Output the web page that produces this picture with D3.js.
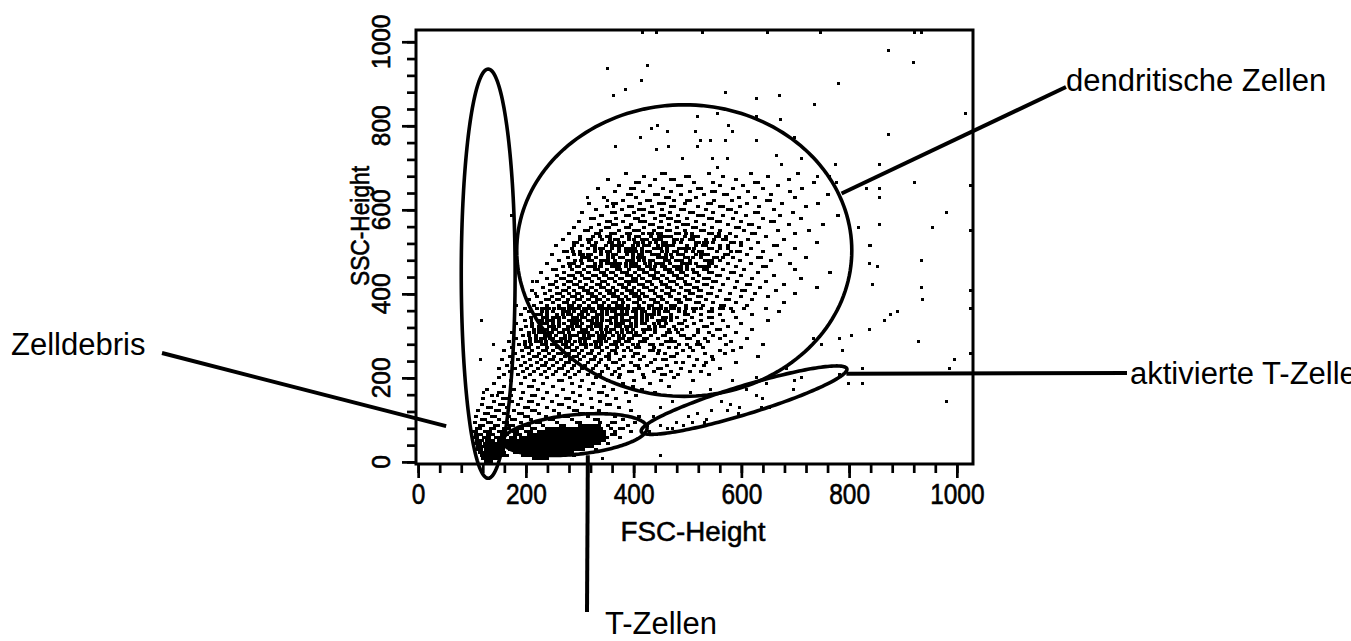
<!DOCTYPE html>
<html>
<head>
<meta charset="utf-8">
<script src="https://cdn.jsdelivr.net/npm/d3@7"></script>
<style>
  body { margin: 0; background: #fff; }
  svg { display: block; }
</style>
</head>
<body>
<script>

// ---------- data (channel units, 0..1023) ----------

const xTickLabels = [0, 200, 400, 600, 800, 1000];
const yTickLabels = [0, 200, 400, 600, 800, 1000];
const xTitle = "FSC-Height";
const yTitle = "SSC-Height";

// gates: centre, half axes, tilt (deg), all in channel units
const gateNames   = ["Zelldebris", "T-Zellen", "aktivierte T-Zellen", "dendritische Zellen"];
const gateCenters = [[130, 448], [291, 65], [605, 147], [494, 503]];
const gateRadii   = [[50, 487], [135, 47], [205, 33], [311, 347]];
const gateTilts   = [0, 7.5, 21.6, 0];
// point on each gate where the label line starts
const gateAnchors = [[52, 85], [315, 16], [795, 210], [786, 639]];

// dendritic cloud, one row per SSC channel: [ssc, fscFrom, fscTo, fscFrom, fscTo, ...]
const dendriticRows = [
  [686, 385,385, 452,457, 540,540, 618,618, 705,705],
  [679, 420,420, 498,503, 566,566, 650,650],
  [672, 352,352, 440,440, 470,475, 590,590, 689,689],
  [665, 405,410, 512,512, 548,548, 625,630, 735,735],
  [658, 372,372, 430,430, 482,487, 560,560, 603,603, 668,668],
  [651, 333,333, 395,400, 455,455, 520,525, 585,585, 640,640, 712,712],
  [644, 365,365, 418,418, 470,470, 505,505, 545,550, 612,612, 690,690],
  [637, 390,395, 440,445, 488,488, 530,530, 568,573, 655,655, 760,760],
  [630, 345,345, 405,405, 460,465, 515,515, 595,595, 625,625, 700,700],
  [623, 380,380, 425,430, 475,475, 500,505, 550,550, 582,582, 648,653],
  [616, 318,318, 362,367, 412,412, 448,458, 495,495, 538,543, 610,610, 675,675, 742,742],
  [609, 350,350, 392,397, 435,435, 470,475, 520,520, 560,565, 598,598, 632,632, 720,720],
  [602, 330,330, 378,378, 410,420, 452,452, 488,493, 535,535, 575,580, 660,660],
  [595, 305,305, 360,365, 400,400, 430,435, 468,468, 505,510, 548,548, 590,590, 625,630, 695,695],
  [588, 342,342, 385,390, 418,418, 450,455, 482,482, 520,530, 565,565, 608,608, 672,672, 780,780],
  [581, 320,325, 368,368, 402,407, 440,440, 463,468, 500,500, 540,545, 585,585, 640,640, 710,710],
  [574, 298,298, 350,355, 380,380, 412,422, 450,450, 478,483, 515,515, 555,560, 600,600, 655,660],
  [567, 335,335, 362,367, 395,395, 430,435, 465,465, 492,502, 530,530, 575,575, 615,620, 688,688, 752,752],
  [560, 290,290, 320,320, 348,353, 385,390, 420,420, 448,453, 480,480, 510,515, 545,545, 590,595, 632,632],
  [553, 310,315, 340,340, 372,372, 400,410, 438,438, 462,467, 495,495, 525,530, 560,560, 605,605, 668,668, 725,725],
  [546, 280,280, 330,335, 358,358, 388,393, 418,418, 445,450, 478,483, 508,508, 540,545, 578,578, 620,625, 700,700],
  [539, 300,300, 325,325, 350,355, 378,378, 405,410, 432,432, 460,470, 495,495, 520,520, 552,557, 590,590, 645,645],
  [532, 268,268, 315,320, 342,342, 365,370, 392,392, 415,425, 450,450, 475,480, 505,510, 535,535, 565,570, 612,612, 680,680],
  [525, 290,295, 330,330, 355,360, 383,383, 402,407, 430,430, 455,460, 488,488, 515,520, 548,548, 580,585, 630,630, 740,740],
  [518, 255,255, 305,305, 322,327, 348,348, 372,377, 398,398, 420,430, 445,445, 468,473, 500,500, 528,533, 560,560, 600,600, 660,665],
  [511, 285,285, 315,315, 338,343, 360,360, 385,395, 415,415, 438,443, 462,462, 485,490, 512,512, 540,545, 575,575, 618,618, 700,700],
  [504, 270,275, 300,300, 328,328, 350,355, 372,372, 398,403, 425,430, 452,452, 475,480, 498,498, 522,527, 555,555, 592,597, 640,640],
  [497, 248,248, 290,290, 315,320, 340,340, 362,367, 388,388, 410,415, 435,440, 460,460, 482,492, 515,515, 538,538, 570,575, 610,610, 672,672],
  [490, 278,278, 305,310, 330,330, 352,352, 375,380, 398,398, 420,420, 445,455, 472,472, 495,500, 525,525, 550,555, 585,585, 630,635, 720,720],
  [483, 262,262, 292,292, 318,323, 340,345, 365,365, 388,393, 410,410, 430,435, 458,458, 478,483, 505,505, 532,537, 560,560, 598,598, 655,655],
  [476, 240,240, 280,285, 305,305, 328,328, 350,355, 375,375, 395,405, 422,422, 442,447, 468,468, 490,495, 515,515, 540,545, 575,575, 618,618, 690,690],
  [469, 268,268, 295,295, 315,320, 338,338, 360,365, 385,385, 405,410, 430,430, 452,457, 475,480, 500,500, 522,527, 552,552, 590,590, 640,645],
  [462, 250,255, 285,285, 308,308, 328,333, 350,350, 370,375, 392,392, 412,417, 438,438, 458,468, 488,488, 510,510, 530,535, 565,565, 605,605, 700,700],
  [455, 228,228, 270,270, 295,300, 318,318, 340,345, 362,362, 382,387, 402,402, 420,425, 445,445, 465,470, 492,492, 512,517, 545,545, 580,585, 630,630, 765,765],
  [448, 258,258, 282,287, 305,305, 325,330, 348,348, 368,368, 390,395, 410,410, 432,437, 455,455, 475,480, 500,500, 522,522, 555,560, 600,600, 660,660],
  [441, 240,240, 265,270, 292,292, 312,317, 335,335, 355,360, 378,378, 398,403, 418,418, 440,445, 462,462, 485,490, 510,510, 535,540, 575,575, 620,620, 710,710],
  [434, 220,220, 255,255, 278,283, 300,300, 322,322, 342,347, 365,365, 385,390, 405,405, 425,430, 450,450, 470,475, 495,495, 520,520, 548,553, 592,592, 645,645],
  [427, 245,250, 270,270, 290,295, 312,312, 332,337, 352,352, 372,377, 392,392, 412,417, 435,435, 455,460, 480,480, 505,505, 530,535, 565,565, 610,615, 680,680],
  [420, 232,232, 258,258, 280,280, 300,305, 322,322, 340,345, 362,362, 380,385, 400,400, 420,425, 442,442, 462,467, 488,488, 512,517, 545,545, 588,588, 635,635, 740,740],
  [413, 212,212, 245,245, 268,273, 290,290, 310,315, 330,330, 350,355, 370,370, 392,397, 410,410, 430,435, 452,452, 475,475, 498,503, 525,525, 560,560, 602,607, 665,665],
  [406, 235,235, 258,263, 280,280, 298,298, 318,323, 338,338, 358,363, 378,378, 398,403, 418,418, 440,440, 460,465, 485,485, 510,510, 538,543, 578,578, 625,625, 700,700],
  [399, 220,220, 248,248, 268,268, 285,290, 305,305, 325,330, 345,345, 365,370, 385,385, 405,410, 425,425, 445,450, 470,470, 495,495, 520,525, 555,555, 600,600, 650,650],
  [392, 205,205, 238,243, 258,258, 278,278, 295,300, 315,315, 332,337, 352,352, 372,377, 392,392, 412,412, 432,437, 455,455, 478,483, 505,505, 535,535, 572,577, 620,620],
  [385, 228,228, 250,250, 270,275, 290,290, 308,308, 325,330, 345,345, 362,367, 380,380, 400,405, 420,420, 440,445, 462,462, 488,488, 515,520, 548,548, 590,590, 680,680],
  [378, 215,215, 240,240, 262,262, 280,285, 300,300, 318,318, 335,340, 355,355, 372,377, 390,390, 410,410, 428,433, 450,450, 472,477, 498,498, 528,528, 562,567, 610,610],
  [371, 198,198, 230,235, 252,252, 270,270, 288,293, 308,308, 325,325, 342,347, 362,362, 380,385, 400,400, 418,418, 438,443, 460,460, 485,485, 510,515, 545,545, 580,580, 645,645],
  [364, 220,220, 242,242, 262,267, 280,280, 298,298, 315,320, 335,335, 352,352, 370,375, 390,390, 408,413, 428,428, 450,450, 470,475, 498,498, 525,525, 560,565, 605,605],
  [357, 205,205, 230,230, 250,250, 268,273, 290,290, 305,305, 322,327, 342,342, 360,365, 378,378, 398,398, 415,420, 438,438, 458,463, 485,485, 512,512, 540,545, 585,585, 670,670],
  [350, 190,190, 218,223, 240,240, 258,258, 278,283, 298,298, 315,315, 332,337, 350,350, 368,373, 388,388, 405,405, 425,430, 448,448, 470,470, 495,500, 525,525, 560,560, 620,620],
  [343, 210,210, 232,232, 250,255, 270,270, 288,288, 305,310, 325,325, 342,342, 358,363, 378,378, 395,400, 415,415, 435,435, 455,460, 480,480, 508,508, 540,545, 590,590],
  [336, 198,198, 222,222, 240,245, 262,262, 280,280, 295,300, 315,315, 332,332, 350,355, 368,368, 385,390, 405,405, 425,425, 445,450, 470,470, 495,495, 525,525, 565,565, 650,650],
  [329, 182,182, 212,212, 230,235, 250,250, 270,270, 285,290, 305,305, 322,327, 340,340, 358,358, 375,380, 395,395, 415,420, 438,438, 460,460, 485,490, 512,512, 545,545, 600,600],
  [322, 200,200, 225,225, 242,247, 262,262, 278,278, 295,300, 315,315, 330,335, 350,350, 368,368, 385,390, 405,405, 428,428, 450,455, 475,475, 500,500, 530,535, 575,575],
  [315, 190,190, 215,215, 232,232, 250,255, 270,270, 288,288, 305,310, 322,322, 340,340, 358,363, 378,378, 398,398, 418,423, 440,440, 465,465, 490,490, 520,520, 555,560, 620,620],
  [308, 175,175, 205,205, 225,225, 242,247, 262,262, 280,280, 298,303, 315,315, 332,332, 350,355, 370,370, 390,395, 405,405, 440,440, 462,467, 482,482, 520,520, 540,540, 590,590],
  [301, 195,195, 218,218, 235,240, 255,255, 272,272, 290,295, 308,308, 325,325, 342,347, 362,362, 382,382, 400,405, 432,432, 455,455, 488,493, 512,512, 548,548, 570,570],
  [294, 182,182, 208,208, 228,228, 245,250, 265,265, 282,282, 300,305, 318,318, 335,340, 355,355, 372,372, 392,397, 420,420, 445,445, 470,470, 500,505, 532,532, 560,560, 610,610],
  [287, 168,168, 198,198, 218,223, 238,238, 258,258, 275,280, 292,292, 310,310, 328,333, 348,348, 365,365, 385,390, 412,412, 422,422, 460,460, 472,477, 520,520, 538,538, 580,580],
  [280, 188,188, 210,210, 230,230, 248,253, 268,268, 285,285, 302,307, 320,320, 340,340, 358,363, 378,378, 398,398, 430,435, 450,450, 485,485, 500,500, 518,523, 572,572, 640,640],
  [273, 175,175, 200,205, 222,222, 240,240, 258,258, 275,280, 295,295, 312,312, 330,335, 350,350, 370,370, 390,390, 405,410, 438,438, 465,465, 478,478, 505,505, 528,528, 600,600],
  [266, 160,160, 192,192, 212,212, 232,237, 250,250, 268,268, 285,290, 305,305, 322,322, 342,342, 360,365, 382,382, 395,395, 430,435, 448,448, 492,492, 510,510, 560,560, 585,585],
  [259, 180,180, 205,205, 225,225, 242,242, 260,265, 280,280, 298,298, 315,320, 335,335, 355,355, 368,368, 402,407, 445,445, 458,458, 480,480, 532,532, 570,570],
  [252, 170,170, 195,195, 215,220, 235,235, 252,252, 272,272, 290,295, 308,308, 328,328, 348,353, 382,382, 398,398, 420,420, 470,475, 502,502, 545,545, 630,630],
  [245, 155,155, 185,185, 208,208, 228,228, 245,250, 265,265, 282,282, 300,300, 320,325, 340,340, 355,355, 375,375, 412,412, 440,440, 455,460, 518,518, 548,548],
  [238, 175,175, 198,198, 220,220, 238,238, 258,258, 275,280, 295,295, 315,315, 335,335, 362,367, 395,395, 432,432, 478,478, 492,492, 535,535, 590,590],
  [231, 165,165, 190,190, 210,210, 230,235, 250,250, 270,270, 290,290, 310,310, 330,330, 348,348, 380,380, 402,407, 425,425, 462,462, 512,512, 530,530],
  [224, 150,150, 180,180, 202,202, 222,222, 242,242, 262,267, 285,285, 305,305, 325,325, 352,352, 372,372, 410,410, 445,450, 488,488, 560,560],
  [217, 170,170, 195,195, 215,215, 235,235, 255,255, 278,278, 298,298, 320,320, 342,342, 365,365, 392,397, 438,438, 470,470, 505,505, 525,525],
  [210, 160,160, 185,185, 208,208, 228,228, 250,250, 272,272, 292,292, 315,315, 338,338, 360,360, 375,375, 418,418, 452,457, 482,482, 540,540]
];

// extra events in the dense centre of the dendritic cloud, same row format
const dendriticCoreRows = [
  [548, 365,365, 428,433, 497,497, 558,558],
  [541, 338,338, 392,392, 447,452, 508,513, 572,572],
  [534, 300,300, 357,357, 400,400, 438,443, 490,490, 550,550],
  [527, 317,317, 372,372, 418,418, 442,442, 475,475, 530,535, 600,600],
  [520, 290,290, 360,365, 408,408, 455,460, 515,515, 575,575],
  [513, 328,328, 372,372, 402,402, 450,450, 498,503, 560,560],
  [506, 288,288, 340,340, 385,390, 415,415, 462,462, 510,510, 580,580],
  [499, 300,305, 352,352, 398,398, 448,448, 470,470, 525,530],
  [492, 318,318, 362,362, 408,413, 460,460, 510,510, 565,565],
  [485, 302,302, 352,352, 398,398, 420,420, 465,465, 490,490, 545,545],
  [478, 290,290, 340,340, 362,367, 385,385, 430,430, 455,455, 500,505],
  [471, 282,282, 328,328, 372,372, 395,395, 440,440, 488,488, 535,540],
  [464, 298,298, 340,340, 360,365, 400,400, 425,425, 475,475, 520,520],
  [457, 308,308, 330,330, 372,372, 410,410, 432,432, 480,485, 500,500],
  [450, 295,295, 315,315, 358,358, 378,383, 420,420, 442,442, 488,488, 540,540],
  [443, 280,280, 325,325, 345,345, 388,388, 430,430, 452,452, 498,498],
  [436, 268,268, 310,310, 355,355, 375,375, 415,415, 438,438, 482,482, 530,535],
  [429, 282,282, 322,322, 345,345, 398,398, 425,425, 468,468, 518,518],
  [422, 270,270, 290,290, 312,312, 352,352, 372,372, 410,410, 452,452, 498,498],
  [415, 258,258, 280,280, 320,320, 340,340, 380,380, 420,420, 442,442, 488,488],
  [408, 270,270, 308,308, 330,330, 368,368, 388,388, 430,430, 472,472, 522,522],
  [401, 258,258, 295,295, 315,315, 355,355, 395,395, 415,415, 460,460, 505,505],
  [394, 248,248, 268,268, 285,285, 322,322, 362,362, 400,400, 422,422, 468,468],
  [387, 262,262, 298,298, 318,318, 352,352, 390,390, 410,410, 452,452, 500,500],
  [380, 250,250, 270,270, 308,308, 345,345, 380,380, 400,400, 440,440, 485,485],
  [373, 262,262, 280,280, 298,298, 335,335, 370,370, 390,390, 428,428, 470,470],
  [366, 232,232, 252,252, 290,290, 325,325, 360,360, 380,380, 418,418, 460,460],
  [359, 240,240, 280,280, 312,312, 350,350, 388,388, 405,405, 448,448, 495,495],
  [352, 228,228, 268,268, 305,305, 342,342, 380,380, 415,415, 438,438],
  [345, 240,240, 262,262, 295,295, 332,332, 368,368, 405,405, 425,425, 470,470],
  [338, 230,230, 250,250, 288,288, 322,322, 342,342, 378,378, 415,415, 458,458],
  [331, 240,240, 262,262, 295,295, 332,332, 368,368, 405,405, 448,448],
  [324, 212,212, 252,252, 285,285, 320,320, 340,340, 375,375, 395,395, 440,440],
  [317, 225,225, 240,240, 278,278, 312,312, 348,348, 388,388, 430,430, 478,478],
  [310, 215,215, 232,232, 268,268, 308,308, 342,342, 378,378, 420,420, 468,468],
  [303, 205,205, 245,245, 282,282, 318,318, 335,335, 372,372, 412,412, 458,458],
  [296, 218,218, 235,235, 272,272, 310,310, 345,345, 380,380, 425,425],
  [289, 208,208, 228,228, 265,265, 300,300, 340,340, 372,372, 415,415, 465,465],
  [282, 198,198, 238,238, 275,275, 312,312, 330,330, 368,368, 408,408, 452,452]
];

// T cells and debris, same row format
const lymphRows = [
  [203, 150,150, 198,198, 240,240, 282,282, 330,330, 372,372, 420,420, 475,475],
  [196, 172,172, 215,215, 262,267, 305,305, 352,352, 400,400, 450,450, 510,510],
  [189, 140,140, 190,190, 232,232, 285,285, 325,325, 380,380, 430,430],
  [182, 160,160, 205,210, 250,250, 300,300, 345,345, 398,398, 465,465],
  [175, 128,128, 178,178, 222,222, 268,268, 318,318, 362,362, 415,415],
  [168, 150,155, 195,195, 240,240, 288,288, 335,340, 385,385, 440,440],
  [161, 138,138, 172,172, 212,217, 258,258, 300,300, 350,350, 405,405],
  [154, 120,120, 158,163, 190,190, 232,232, 275,280, 320,320, 368,368],
  [147, 140,140, 175,175, 205,210, 248,248, 292,292, 338,338, 392,392],
  [140, 118,118, 152,157, 185,185, 222,222, 262,267, 305,305, 350,355],
  [133, 130,135, 165,165, 198,203, 240,240, 280,280, 322,322, 372,372],
  [126, 112,112, 145,150, 178,178, 212,217, 252,252, 290,295, 335,335, 395,395],
  [119, 125,130, 160,160, 188,193, 225,225, 262,262, 300,305, 348,348],
  [112, 108,108, 138,143, 168,168, 198,203, 238,238, 272,277, 315,315, 365,365, 410,410],
  [105, 118,123, 150,150, 175,180, 210,210, 245,250, 285,285, 328,333, 380,380],
  [98, 105,105, 130,135, 160,165, 190,190, 220,225, 258,258, 295,300, 338,338, 360,365, 402,402],
  [91, 115,120, 142,147, 170,175, 200,205, 232,232, 265,270, 300,335, 352,352, 390,390],
  [84, 110,115, 135,140, 160,170, 188,193, 212,217, 240,340, 358,358, 375,380],
  [77, 102,107, 125,135, 150,160, 178,183, 200,210, 225,345, 365,365, 395,395],
  [70, 108,118, 130,140, 155,165, 180,190, 205,345, 360,365],
  [63, 104,110, 122,132, 145,160, 172,180, 190,350, 375,375],
  [56, 110,120, 128,140, 150,162, 168,345],
  [49, 106,116, 124,138, 145,158, 165,335, 352,352],
  [42, 112,122, 128,142, 150,160, 165,322],
  [35, 108,118, 126,140, 148,158, 170,305, 330,330],
  [28, 114,124, 130,145, 152,160, 180,285],
  [21, 118,128, 134,148, 158,165, 195,260, 290,290],
  [14, 120,135, 140,150, 215,240],
  [7, 124,138, 145,150],
  [0, 126,136]
];

// single events, [fsc, ssc, fsc, ssc, ...]
const activatedEvents = [
  684,222, 699,199, 712,201, 696,177, 629,158, 640,154, 564,147, 579,139, 597,135,
  638,132, 653,132, 545,128, 518,116, 501,111, 532,99, 594,116, 480,95, 473,83,
  449,87, 430,76, 443,71, 462,80, 425,87, 492,87, 536,106, 510,95, 610,177,
  647,187, 629,206, 584,194, 542,177, 505,166, 473,147, 449,130, 436,111, 575,128
];

const sparseEvents = [
  351,938, 425,947, 384,892, 414,909, 362,878, 571,885, 629,864, 670,871, 781,902,
  735,850, 874,982, 920,954, 1017,833, 874,780, 922,669, 981,595, 955,557, 857,707,
  857,652, 857,633, 857,571, 839,514, 818,557, 775,707, 833,655,
  555,833, 519,826, 629,826, 672,818, 434,795, 445,804, 462,790, 412,774, 367,752,
  514,790, 525,769, 542,767, 571,767, 577,804, 584,788, 629,767, 699,771, 518,750,
  443,745, 464,752, 490,721, 547,724, 575,728, 555,700, 666,733, 675,707, 712,721,
  742,683, 764,681, 777,669, 315,632, 352,624, 362,610, 338,586, 365,569, 315,555,
  838,514, 935,483, 838,473, 853,465, 844,424, 935,415, 937,386, 876,355, 890,363,
  866,337, 838,318, 928,289, 996,246, 987,227, 981,147, 824,227, 824,189, 798,189,
  783,211, 805,301, 783,296, 788,270, 749,282, 733,296,
  449,21, 343,11,
  118,341, 139,282, 116,244, 122,166, 148,158, 174,590, 213,432, 217,400, 211,337,
  183,377, 198,290
];

// off-scale events piled on the top and right borders
const topEdgeFsc = [416, 443, 527, 648, 746, 922, 935];
const rightEdgeSsc = [662, 550, 408, 365, 258];

// ---------- layout ----------

const W = 1351, H = 641;
const frame = {left: 416, top: 30, right: 973, bottom: 464};

const svg = d3.select("body").append("svg")
    .attr("width", W)
    .attr("height", H);

const x = d3.scaleLinear().domain([-4, 1030]).range([frame.left, frame.right]);
const y = d3.scaleLinear().domain([-5, 1028]).range([frame.bottom, frame.top]);

const tickFont = "'Liberation Sans', Arial, sans-serif";
const labelFont = "'Liberation Sans', Arial, sans-serif";
const digitWidth = 13.6;   // the narrow screen font of the original

// ---------- events ----------

let runs = [];
dendriticRows.concat(dendriticCoreRows, lymphRows).forEach(r => {
    for (let i = 1; i < r.length; i += 2) runs.push({s: r[0], a: r[i], b: r[i + 1], w: 4});
});
for (let i = 0; i < activatedEvents.length; i += 2)
    runs.push({s: activatedEvents[i + 1], a: activatedEvents[i], b: activatedEvents[i], w: 3});
for (let i = 0; i < sparseEvents.length; i += 2)
    runs.push({s: sparseEvents[i + 1], a: sparseEvents[i], b: sparseEvents[i], w: 3});
topEdgeFsc.forEach(f => runs.push({s: 1023, a: f, b: f, w: 3}));
rightEdgeSsc.forEach(s => runs.push({s: s, a: 1026, b: 1026, w: 3}));

const dot = 3;
svg.append("g")
    .attr("shape-rendering", "crispEdges")
    .selectAll("rect")
    .data(runs)
    .enter()
    .append("rect")
        .attr("x", d => Math.round(x(d.a) - d.w / 2))
        .attr("y", d => Math.round((y(d.s) - dot / 2) / dot) * dot + 1)
        .attr("width", d => Math.round(x(d.b) - x(d.a)) + d.w)
        .attr("height", dot)
        .attr("fill", "#000");

// ---------- axes ----------

const minorTicks = d3.range(0, 1001, 40);

function styleAxis(sel) {
    sel.select(".domain").remove();
    sel.selectAll(".tick line").attr("stroke", "#000").attr("stroke-width", 2.7);
}

svg.append("g")
    .attr("transform", `translate(0,${frame.bottom})`)
    .call(d3.axisBottom(x).tickValues(minorTicks).tickSize(9).tickFormat(""))
    .call(styleAxis);

svg.append("g")
    .attr("transform", `translate(0,${frame.bottom})`)
    .call(d3.axisBottom(x).tickValues(xTickLabels).tickSize(14).tickPadding(5).tickFormat(d => String(d)))
    .call(styleAxis)
    .call(g => g.selectAll("text")
        .attr("fill", "#000")
        .attr("stroke", "#000")
        .attr("stroke-width", 0.6)
        .attr("textLength", d => String(d).length * digitWidth)
        .attr("lengthAdjust", "spacingAndGlyphs")
        .style("font-family", tickFont)
        .style("font-size", "29px"));

svg.append("g")
    .attr("transform", `translate(${frame.left},0)`)
    .call(d3.axisLeft(y).tickValues(minorTicks).tickSize(9).tickFormat(""))
    .call(styleAxis);

svg.append("g")
    .attr("transform", `translate(${frame.left},0)`)
    .call(d3.axisLeft(y).tickValues(yTickLabels).tickSize(14).tickFormat(""))
    .call(styleAxis);

// y tick labels run bottom-to-top
svg.append("g")
    .selectAll("text")
    .data(yTickLabels)
    .enter()
    .append("text")
        .attr("transform", d => `translate(389.5,${y(d)}) rotate(-90)`)
        .attr("text-anchor", "middle")
        .attr("stroke", "#000")
        .attr("stroke-width", 0.6)
        .attr("textLength", d => String(d).length * digitWidth)
        .attr("lengthAdjust", "spacingAndGlyphs")
        .style("font-family", tickFont)
        .style("font-size", "25px")
        .text(d => d);

svg.append("text")
    .attr("x", 693)
    .attr("y", 541)
    .attr("text-anchor", "middle")
    .attr("stroke", "#000")
    .attr("stroke-width", 0.5)
    .attr("textLength", 145)
    .attr("lengthAdjust", "spacingAndGlyphs")
    .style("font-family", tickFont)
    .style("font-size", "27px")
    .text(xTitle);

svg.append("text")
    .attr("transform", `translate(369,226) rotate(-90)`)
    .attr("text-anchor", "middle")
    .attr("stroke", "#000")
    .attr("stroke-width", 0.6)
    .attr("textLength", 120)
    .attr("lengthAdjust", "spacingAndGlyphs")
    .style("font-family", tickFont)
    .style("font-size", "26px")
    .text(yTitle);

// frame
svg.append("rect")
    .attr("x", frame.left)
    .attr("y", frame.top)
    .attr("width", frame.right - frame.left)
    .attr("height", frame.bottom - frame.top)
    .attr("fill", "none")
    .attr("stroke", "#000")
    .attr("stroke-width", 3);

// ---------- gates ----------

const ellipseLine = d3.line().x(p => x(p[0])).y(p => y(p[1])).curve(d3.curveLinearClosed);
const angles = d3.range(0, 2 * Math.PI, Math.PI / 90);

gateNames.forEach((name, i) => {
    const [cx, cy] = gateCenters[i];
    const [rx, ry] = gateRadii[i];
    const t = gateTilts[i] * Math.PI / 180;
    const pts = angles.map(a => {
        const u = rx * Math.cos(a), v = ry * Math.sin(a);
        return [cx + u * Math.cos(t) - v * Math.sin(t), cy + u * Math.sin(t) + v * Math.cos(t)];
    });
    svg.append("path")
        .attr("d", ellipseLine(pts))
        .attr("fill", "none")
        .attr("stroke", "#000")
        .attr("stroke-width", 3.6);
});

// ---------- labels ----------

// text x, text baseline, outer end of the leader line (pixels)
const labelLayout = [
    [11, 355, 162, 353],
    [605, 634, 587, 612],
    [1130, 384, 1127, 373],
    [1066, 91, 1066, 87]
];

gateNames.forEach((name, i) => {
    const [tx, ty, lx, ly] = labelLayout[i];
    const [ax, ay] = gateAnchors[i];
    svg.append("line")
        .attr("x1", lx).attr("y1", ly)
        .attr("x2", x(ax)).attr("y2", y(ay))
        .attr("stroke", "#000")
        .attr("stroke-width", 4);
    svg.append("text")
        .attr("x", tx)
        .attr("y", ty)
        .style("font-family", labelFont)
        .style("font-size", "31px")
        .attr("fill", "#000")
        .text(name);
});

</script>
</body>
</html>
